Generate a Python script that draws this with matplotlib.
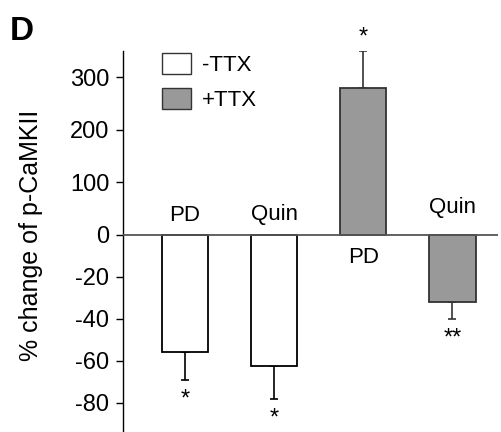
import numpy as np
from matplotlib import pyplot as plt
from matplotlib.patches import Patch

# values (% change of p-CaMKII)
groups = ["-TTX", "-TTX", "+TTX", "+TTX"]
bar_labels = ["PD", "Quin", "PD", "Quin"]
means = [-56, -62.5, 280, -32]
errors = [13, 16, 70, 8]
stars = ["*", "*", "*", "**"]

fills = {"-TTX": "white", "+TTX": "#999999"}
edges = {"-TTX": "black", "+TTX": "#333333"}

plt.rcParams['font.family'] = ['Liberation Sans', 'DejaVu Sans']


# broken-ish axis: negative side stretched 4x
def fwd(y):
    y = np.asarray(y, dtype=float)
    return np.where(y < 0, 4 * y, y)


def inv(v):
    v = np.asarray(v, dtype=float)
    return np.where(v < 0, v / 4, v)


fig = plt.figure(figsize=(5.01, 4.32), dpi=100)
ax = fig.add_axes([0.246, 0.0, 0.748, 0.882])
ax.set_yscale('function', functions=(fwd, inv))

x = np.arange(len(means))
for i in range(len(means)):
    g = groups[i]
    ax.bar(x[i], means[i], width=0.52, color=fills[g], edgecolor=edges[g],
           linewidth=1.3, zorder=2)
    if means[i] < 0:
        yerr = [[errors[i]], [0]]
        end = means[i] - errors[i]
    else:
        yerr = [[0], [errors[i]]]
        end = means[i] + errors[i]
    ax.errorbar(x[i], means[i], yerr=yerr, fmt='none', ecolor=edges[g],
                elinewidth=1.2, capsize=3, capthick=1.2, zorder=1)
    # significance stars
    if means[i] < 0:
        ax.annotate(stars[i], (x[i], end), xytext=(0, -22), textcoords='offset points',
                    ha='center', va='bottom', fontsize=17)
    else:
        ax.annotate(stars[i], (x[i], end), xytext=(0, 2), textcoords='offset points',
                    ha='center', va='bottom', fontsize=17)

# condition names next to the zero line
label_offsets = [6, 7, -9, 12]
for i in range(len(means)):
    va = 'bottom' if label_offsets[i] > 0 else 'top'
    ax.annotate(bar_labels[i], (x[i], 0), xytext=(0, label_offsets[i]),
                textcoords='offset points', ha='center', va=va, fontsize=16)

ax.axhline(0, color='#555555', linewidth=1.3, zorder=3)

ax.set_xlim(-0.69, 3.51)
ax.set_ylim(-94, 350)
ax.set_yticks([-80, -60, -40, -20, 0, 100, 200, 300])
ax.set_yticklabels(["-80", "-60", "-40", "-20", "0", "100", "200", "300"])
ax.tick_params(axis='y', labelsize=17, length=5, width=1, pad=5)
ax.minorticks_off()
ax.set_xticks([])
for s in ['top', 'right', 'bottom']:
    ax.spines[s].set_visible(False)
ax.spines['left'].set_linewidth(1)

ax.set_ylabel("% change of p-CaMKII", fontsize=18)
ax.yaxis.set_label_coords(-0.215, 0.517)

handles = [Patch(facecolor=fills["-TTX"], edgecolor='#333333', label="-TTX"),
           Patch(facecolor=fills["+TTX"], edgecolor='#333333', label="+TTX")]
ax.legend(handles=handles, loc='upper left', bbox_to_anchor=(0.08, 1.018), frameon=False,
          fontsize=16, handlelength=1.3, handleheight=1.05, handletextpad=0.5,
          labelspacing=0.55, borderaxespad=0)

fig.text(0.02, 0.928, "D", fontsize=24, fontweight='bold', va='center')

fig.savefig("out.png", dpi=100)
